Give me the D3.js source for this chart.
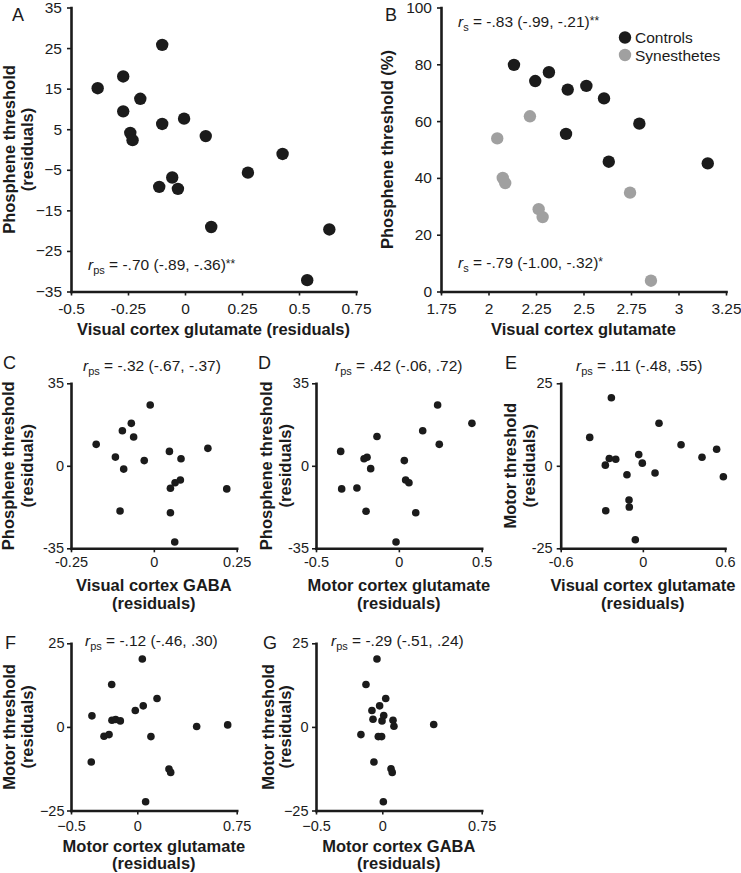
<!DOCTYPE html>
<html>
<head>
<meta charset="utf-8">
<script src="https://cdn.jsdelivr.net/npm/d3@7"></script>
<style>
  html, body { margin: 0; padding: 0; background: #fff; }
  svg { display: block; font-family: "Liberation Sans", Arial, Helvetica, sans-serif; }
</style>
</head>
<body>
<svg id="chart" width="741" height="873"></svg>
<script>
// ---------------- DATA ----------------
// Panel A: visual cortex glutamate (residuals) vs phosphene threshold (residuals)
const aX = [-0.383,-0.271,-0.10,-0.196,-0.271,-0.24,-0.23,-0.10,-0.004,0.091,0.428,0.276,-0.056,-0.113,-0.031,0.115,0.633,0.536];
const aY = [15.1,18.0,25.8,12.5,9.4,4.1,2.3,6.3,7.6,3.3,-1.1,-5.7,-6.9,-9.2,-9.7,-19.1,-19.7,-32.2];
const aXTicks = [-0.5,-0.25,0,0.25,0.5,0.75];
const aXTickLabels = ["-0.5","-0.25","0","0.25","0.5","0.75"];
const aYTicks = [-35,-25,-15,-5,5,15,25,35];
const aYTickLabels = ["\u221235","\u221225","\u221215","\u22125","5","15","25","35"];

// Panel B: visual cortex glutamate vs phosphene threshold (%)
const bCtrlX = [2.134,2.246,2.318,2.417,2.515,2.608,2.794,2.408,2.633,3.154];
const bCtrlY = [79.8,74.1,77.2,71.1,72.4,68.0,59.1,55.5,45.7,45.1];
const bSynX = [2.218,2.046,2.075,2.088,2.264,2.285,2.745,2.855];
const bSynY = [61.7,53.9,40.0,38.2,29.0,26.2,34.8,3.8];
const bXTicks = [1.75,2,2.25,2.5,2.75,3,3.25];
const bXTickLabels = ["1.75","2","2.25","2.5","2.75","3","3.25"];
const bYTicks = [0,20,40,60,80,100];
const bYTickLabels = ["0","20","40","60","80","100"];
const bSeries = ["Controls","Synesthetes"];

// Panel C: visual cortex GABA vs phosphene threshold
const cX = [-0.011,-0.174,-0.095,-0.068,-0.061,-0.116,-0.029,0.047,0.082,0.163,-0.091,0.050,0.064,0.080,0.220,-0.102,0.050,0.063];
const cY = [25.8,9.1,14.9,18.0,12.2,3.7,2.2,6.1,3.0,7.4,-1.4,-9.5,-7.2,-6.0,-9.8,-19.2,-19.9,-32.3];
const cXTicks = [-0.25,0,0.25], cXTickLabels = ["-0.25","0","0.25"];
const cYTicks = [-35,0,35], cYTickLabels = ["-35","0","35"];

// Panel D: motor cortex glutamate vs phosphene threshold
const dX = [0.234,0.441,0.144,0.244,-0.132,-0.351,-0.210,-0.192,-0.170,0.033,0.041,0.061,-0.345,-0.253,-0.198,0.102,-0.017];
const dY = [25.8,18.0,14.9,9.1,12.4,6.1,3.0,3.6,-1.2,2.2,-6.0,-7.2,-9.8,-9.4,-19.3,-19.9,-32.3];
const dXTicks = [-0.5,0,0.5], dXTickLabels = ["-0.5","0","0.5"];
const dYTicks = [-35,0,35], dYTickLabels = ["-35","0","35"];

// Panel E: visual cortex glutamate vs motor threshold
const eX = [-0.230,-0.388,0.118,0.279,0.539,0.432,-0.030,-0.004,-0.245,-0.198,-0.274,-0.116,0.089,0.588,-0.101,-0.099,-0.271,-0.055];
const eY = [20.6,8.6,12.9,6.4,5.0,2.6,3.4,0.8,2.2,2.0,0.2,-2.7,-2.2,-3.3,-10.4,-12.5,-13.6,-22.4];
const eXTicks = [-0.6,0,0.6], eXTickLabels = ["-0.6","0","0.6"];
const eYTicks = [-25,0,25], eYTickLabels = ["-25","0","25"];

// Panel F: motor cortex glutamate vs motor threshold
const fX = [0.038,-0.193,0.149,0.045,-0.015,-0.342,-0.191,-0.163,-0.128,0.448,0.682,-0.251,-0.213,0.103,-0.347,0.239,0.252,0.063];
const fY = [20.3,12.7,8.5,6.3,4.9,3.3,2.0,2.2,1.8,0.1,0.6,-2.8,-2.3,-2.9,-10.5,-12.6,-13.6,-22.4];
const fXTicks = [-0.5,0,0.75], fXTickLabels = ["\u22120.5","0","0.75"];
const fYTicks = [-25,0,25], fYTickLabels = ["\u221225","0","25"];

// Panel G: motor cortex GABA vs motor threshold
const gX = [-0.040,-0.123,0.026,-0.020,-0.078,0.011,-0.070,-0.002,0.081,0.088,0.388,-0.161,-0.030,-0.005,-0.063,0.066,0.075,0.008];
const gY = [20.3,12.7,8.5,6.3,4.9,3.4,2.3,1.8,2.0,0.2,0.7,-2.3,-2.9,-2.9,-10.5,-12.5,-13.6,-22.4];
const gXTicks = [-0.5,0,0.75], gXTickLabels = ["\u22120.5","0","0.75"];
const gYTicks = [-25,0,25], gYTickLabels = ["\u221225","0","25"];

// ---------------- STYLE / LAYOUT ----------------
const INK = "#1b1b1b";
const GRAY = "#a0a0a0";
const svg = d3.select("#chart");

function drawPanel(p) {
  const x = d3.scaleLinear().domain(p.xDomain).range([p.l, p.r]);
  const y = d3.scaleLinear().domain(p.yDomain).range([p.b, p.t]);
  const g = svg.append("g");

  const xAxis = d3.axisBottom(x).tickValues(p.xTicks)
    .tickFormat((d, i) => p.xTickLabels[i]).tickSize(4).tickSizeOuter(0).tickPadding(p.xPad);
  const yAxis = d3.axisLeft(y).tickValues(p.yTicks)
    .tickFormat((d, i) => p.yTickLabels[i]).tickSize(4).tickSizeOuter(0).tickPadding(p.yPad);

  const gx = g.append("g").attr("transform", `translate(0,${p.b})`).call(xAxis);
  const gy = g.append("g").attr("transform", `translate(${p.l},0)`).call(yAxis);
  [gx, gy].forEach(a => {
    a.select(".domain").attr("stroke", INK).attr("stroke-width", 2.6).attr("stroke-linecap", "square");
    a.selectAll(".tick line").attr("stroke", INK).attr("stroke-width", 1.6);
    a.selectAll(".tick text").attr("fill", INK).attr("font-size", p.tickFont)
      .attr("font-family", "'Liberation Sans', Arial, sans-serif");
  });

  p.series.forEach(s => {
    g.append("g").selectAll("circle")
      .data(s.xs.map((v, i) => [v, s.ys[i]]))
      .join("circle")
      .attr("cx", d => x(d[0]))
      .attr("cy", d => y(d[1]))
      .attr("r", p.r0)
      .attr("fill", s.color);
  });

  g.append("text").attr("x", p.letterX).attr("y", p.letterY)
    .attr("font-size", 18).attr("fill", INK).text(p.letter);

  p.xTitle.forEach((t, i) => {
    g.append("text").attr("x", (p.l + p.r) / 2).attr("y", p.xTitleY[i])
      .attr("text-anchor", "middle").attr("font-weight", "bold").attr("font-size", 16.5)
      .attr("fill", INK).text(t);
  });
  const yc = (p.t + p.b) / 2;
  p.yTitle.forEach((t, i) => {
    g.append("text")
      .attr("transform", `translate(${p.yTitleX[i]},${yc}) rotate(-90)`)
      .attr("text-anchor", "middle").attr("font-weight", "bold").attr("font-size", 16.5)
      .attr("fill", INK).text(t);
  });

  p.notes.forEach(n => {
    const t = g.append("text").attr("x", n.x).attr("y", n.y).attr("font-size", 15.5).attr("fill", INK);
    t.append("tspan").attr("font-style", "italic").text("r");
    t.append("tspan").attr("font-size", 11).attr("dy", 4).text(n.sub);
    t.append("tspan").attr("dy", -4).text(" = " + n.text);
    if (n.stars) t.append("tspan").attr("font-size", 12).attr("dy", -2).text(n.stars);
  });
}

const panels = [
  { letter: "A", letterX: 12, letterY: 21, l: 71, r: 356, t: 7.5, b: 291.5,
    xDomain: [-0.5, 0.75], yDomain: [-35, 35],
    xTicks: aXTicks, xTickLabels: aXTickLabels, yTicks: aYTicks, yTickLabels: aYTickLabels,
    xPad: 7, yPad: 5, tickFont: 15.5, r0: 6.2,
    series: [{ xs: aX, ys: aY, color: INK }],
    xTitle: ["Visual cortex glutamate (residuals)"], xTitleY: [335],
    yTitle: ["Phosphene threshold", "(residuals)"], yTitleX: [15, 33],
    notes: [{ x: 88, y: 270, sub: "ps", text: "-.70 (-.89, -.36)", stars: "**" }] },
  { letter: "B", letterX: 385, letterY: 21, l: 441, r: 726, t: 7.5, b: 291.5,
    xDomain: [1.75, 3.25], yDomain: [0, 100],
    xTicks: bXTicks, xTickLabels: bXTickLabels, yTicks: bYTicks, yTickLabels: bYTickLabels,
    xPad: 7, yPad: 5, tickFont: 15.5, r0: 6.2,
    series: [{ xs: bCtrlX, ys: bCtrlY, color: INK }, { xs: bSynX, ys: bSynY, color: GRAY }],
    xTitle: ["Visual cortex glutamate"], xTitleY: [335],
    yTitle: ["Phosphene threshold (%)"], yTitleX: [393],
    notes: [{ x: 458, y: 27, sub: "s", text: "-.83 (-.99, -.21)", stars: "**" },
            { x: 458, y: 268, sub: "s", text: "-.79 (-1.00, -.32)", stars: "*" }] },
  { letter: "C", letterX: 3, letterY: 369, l: 71, r: 236.7, t: 383.3, b: 548.3,
    xDomain: [-0.25, 0.25], yDomain: [-35, 35],
    xTicks: cXTicks, xTickLabels: cXTickLabels, yTicks: cYTicks, yTickLabels: cYTickLabels,
    xPad: 4.5, yPad: 3, tickFont: 14.5, r0: 3.8,
    series: [{ xs: cX, ys: cY, color: INK }],
    xTitle: ["Visual cortex GABA", "(residuals)"], xTitleY: [591, 609],
    yTitle: ["Phosphene threshold", "(residuals)"], yTitleX: [14, 33],
    notes: [{ x: 83, y: 371, sub: "ps", text: "-.32 (-.67, -.37)" }] },
  { letter: "D", letterX: 258, letterY: 369, l: 316, r: 481.7, t: 383.3, b: 548.3,
    xDomain: [-0.5, 0.5], yDomain: [-35, 35],
    xTicks: dXTicks, xTickLabels: dXTickLabels, yTicks: dYTicks, yTickLabels: dYTickLabels,
    xPad: 4.5, yPad: 3, tickFont: 14.5, r0: 3.8,
    series: [{ xs: dX, ys: dY, color: INK }],
    xTitle: ["Motor cortex glutamate", "(residuals)"], xTitleY: [591, 609],
    yTitle: ["Phosphene threshold", "(residuals)"], yTitleX: [272, 290.5],
    notes: [{ x: 335, y: 371, sub: "ps", text: ".42 (-.06, .72)" }] },
  { letter: "E", letterX: 505, letterY: 369, l: 560.7, r: 725, t: 383.3, b: 548.3,
    xDomain: [-0.6, 0.6], yDomain: [-25, 25],
    xTicks: eXTicks, xTickLabels: eXTickLabels, yTicks: eYTicks, yTickLabels: eYTickLabels,
    xPad: 4.5, yPad: 4, tickFont: 14.5, r0: 3.8,
    series: [{ xs: eX, ys: eY, color: INK }],
    xTitle: ["Visual cortex glutamate", "(residuals)"], xTitleY: [591, 609],
    yTitle: ["Motor threshold", "(residuals)"], yTitleX: [516, 535],
    notes: [{ x: 576, y: 371, sub: "ps", text: ".11 (-.48, .55)" }] },
  { letter: "F", letterX: 5, letterY: 649, l: 71, r: 236.7, t: 643.3, b: 810.5,
    xDomain: [-0.5, 0.75], yDomain: [-25, 25],
    xTicks: fXTicks, xTickLabels: fXTickLabels, yTicks: fYTicks, yTickLabels: fYTickLabels,
    xPad: 6.5, yPad: 2.5, tickFont: 14.5, r0: 3.8,
    series: [{ xs: fX, ys: fY, color: INK }],
    xTitle: ["Motor cortex glutamate", "(residuals)"], xTitleY: [852, 869],
    yTitle: ["Motor threshold", "(residuals)"], yTitleX: [15, 33],
    notes: [{ x: 85, y: 646, sub: "ps", text: "-.12 (-.46, .30)" }] },
  { letter: "G", letterX: 263, letterY: 649, l: 316, r: 481.7, t: 643.3, b: 810.5,
    xDomain: [-0.5, 0.75], yDomain: [-25, 25],
    xTicks: gXTicks, xTickLabels: gXTickLabels, yTicks: gYTicks, yTickLabels: gYTickLabels,
    xPad: 6.5, yPad: 3.5, tickFont: 14.5, r0: 3.8,
    series: [{ xs: gX, ys: gY, color: INK }],
    xTitle: ["Motor cortex GABA", "(residuals)"], xTitleY: [852, 869],
    yTitle: ["Motor threshold", "(residuals)"], yTitleX: [274, 291],
    notes: [{ x: 331, y: 646, sub: "ps", text: "-.29 (-.51, .24)" }] }
];

panels.forEach(drawPanel);

// legend for panel B
const legend = svg.append("g");
const legendColors = [INK, GRAY];
bSeries.forEach((name, i) => {
  legend.append("circle").attr("cx", 625).attr("cy", 37.5 + i * 17.5).attr("r", 6.2).attr("fill", legendColors[i]);
  legend.append("text").attr("x", 635).attr("y", 43 + i * 17.5).attr("font-size", 15.5).attr("fill", INK).text(name);
});
</script>
</body>
</html>
